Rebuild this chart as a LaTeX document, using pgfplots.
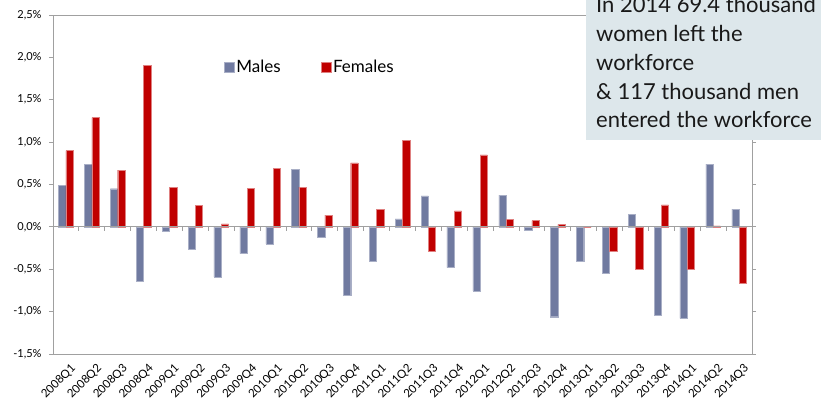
\documentclass[border=0pt]{standalone}
\usepackage{fontspec}
\setmainfont{Lato}
\usepackage{pgfplots}
\usepackage{pgfplotstable}
\pgfplotsset{compat=1.18}

\definecolor{malecol}{RGB}{112,122,160}
\definecolor{femalecol}{RGB}{192,0,0}
\definecolor{boxcol}{RGB}{221,231,235}
\definecolor{framecol}{RGB}{160,160,160}

% change in workforce, percent
\pgfplotstableread{
q   M      F
0   0.49   0.90
1   0.74   1.29
2   0.45   0.67
3  -0.64   1.91
4  -0.055  0.47
5  -0.26   0.25
6  -0.59   0.035
7  -0.315  0.455
8  -0.20   0.69
9   0.68   0.47
10 -0.125  0.14
11 -0.81   0.755
12 -0.40   0.21
13  0.095  1.02
14  0.365 -0.285
15 -0.48   0.19
16 -0.755  0.85
17  0.375  0.09
18 -0.04   0.075
19 -1.06   0.03
20 -0.40   0.0
21 -0.545 -0.29
22  0.145 -0.495
23 -1.04   0.26
24 -1.08  -0.50
25  0.74   0.012
26  0.21  -0.665
}\workforce

\begin{document}
\begin{tikzpicture}
\path[use as bounding box, clip] (0,0) rectangle (821pt,409pt);
\begin{axis}[
    at={(53pt,55pt)}, anchor=south west,
    scale only axis,
    width=699pt, height=339pt,
    ybar=0pt, bar width=7.3pt,
    xmin=-0.5, xmax=26.5,
    ymin=-1.5, ymax=2.5,
    ytick={-1.5,-1,...,2.5},
    xtick={0,...,26},
    xticklabels={2008Q1,2008Q2,2008Q3,2008Q4,2009Q1,2009Q2,2009Q3,2009Q4,
      2010Q1,2010Q2,2010Q3,2010Q4,2011Q1,2011Q2,2011Q3,2011Q4,
      2012Q1,2012Q2,2012Q3,2012Q4,2013Q1,2013Q2,2013Q3,2013Q4,
      2014Q1,2014Q2,2014Q3},
    xticklabel style={rotate=45, anchor=north east, font=\fontsize{11.5}{12}\selectfont, xshift=3pt, yshift=-3pt},
    yticklabel style={font=\fontsize{11}{12}\selectfont, xshift=-4pt},
    yticklabel={\pgfmathprintnumber{\tick}\%},
    /pgf/number format/.cd, fixed, fixed zerofill, precision=1, use comma, assume math mode=true, /pgfplots/.cd,
    axis line style={framecol, line width=0.8pt},
    tick align=outside,
    major tick length=4pt,
    xtick style={draw=none},
    ytick style={framecol, line width=0.8pt},
    legend columns=2,
    legend style={draw=none, fill=none, at={(rel axis cs:0.24,0.847)}, anchor=west,
      font=\fontsize{17}{18}\selectfont,
      /tikz/every even column/.append style={column sep=38pt}},
    legend image code/.code={\fill[#1] (0pt,-5pt) rectangle (10pt,5pt);},
    clip=false,
]
\addplot[fill=malecol, draw=malecol!60!white, line width=0.4pt] table[x=q, y=M] {\workforce};
\addplot[fill=femalecol, draw=femalecol!50!white, line width=0.4pt] table[x=q, y=F] {\workforce};
\legend{Males, Females}
\draw[framecol, line width=0.8pt] (axis cs:-0.5,0) -- (axis cs:26.5,0);
\pgfplotsinvokeforeach{-0.5,0.5,...,26.5}{
  \draw[framecol, line width=0.8pt] (axis cs:#1,0) -- (axis cs:#1,-0.047);
}
\end{axis}
\fill[boxcol] (586pt,269pt) rectangle (830pt,420pt);
\begin{scope}[every node/.style={anchor=base west, inner sep=0pt, text=black!90, font=\fontsize{22}{24}\selectfont}]
\node at (596pt,396pt) {In 2014 69.4 thousand};
\node at (596pt,367.3pt) {women left the};
\node at (596pt,338.6pt) {workforce};
\node at (596pt,309.9pt) {\& 117 thousand men};
\node at (596pt,281.2pt) {entered the workforce};
\end{scope}
\end{tikzpicture}
\end{document}
